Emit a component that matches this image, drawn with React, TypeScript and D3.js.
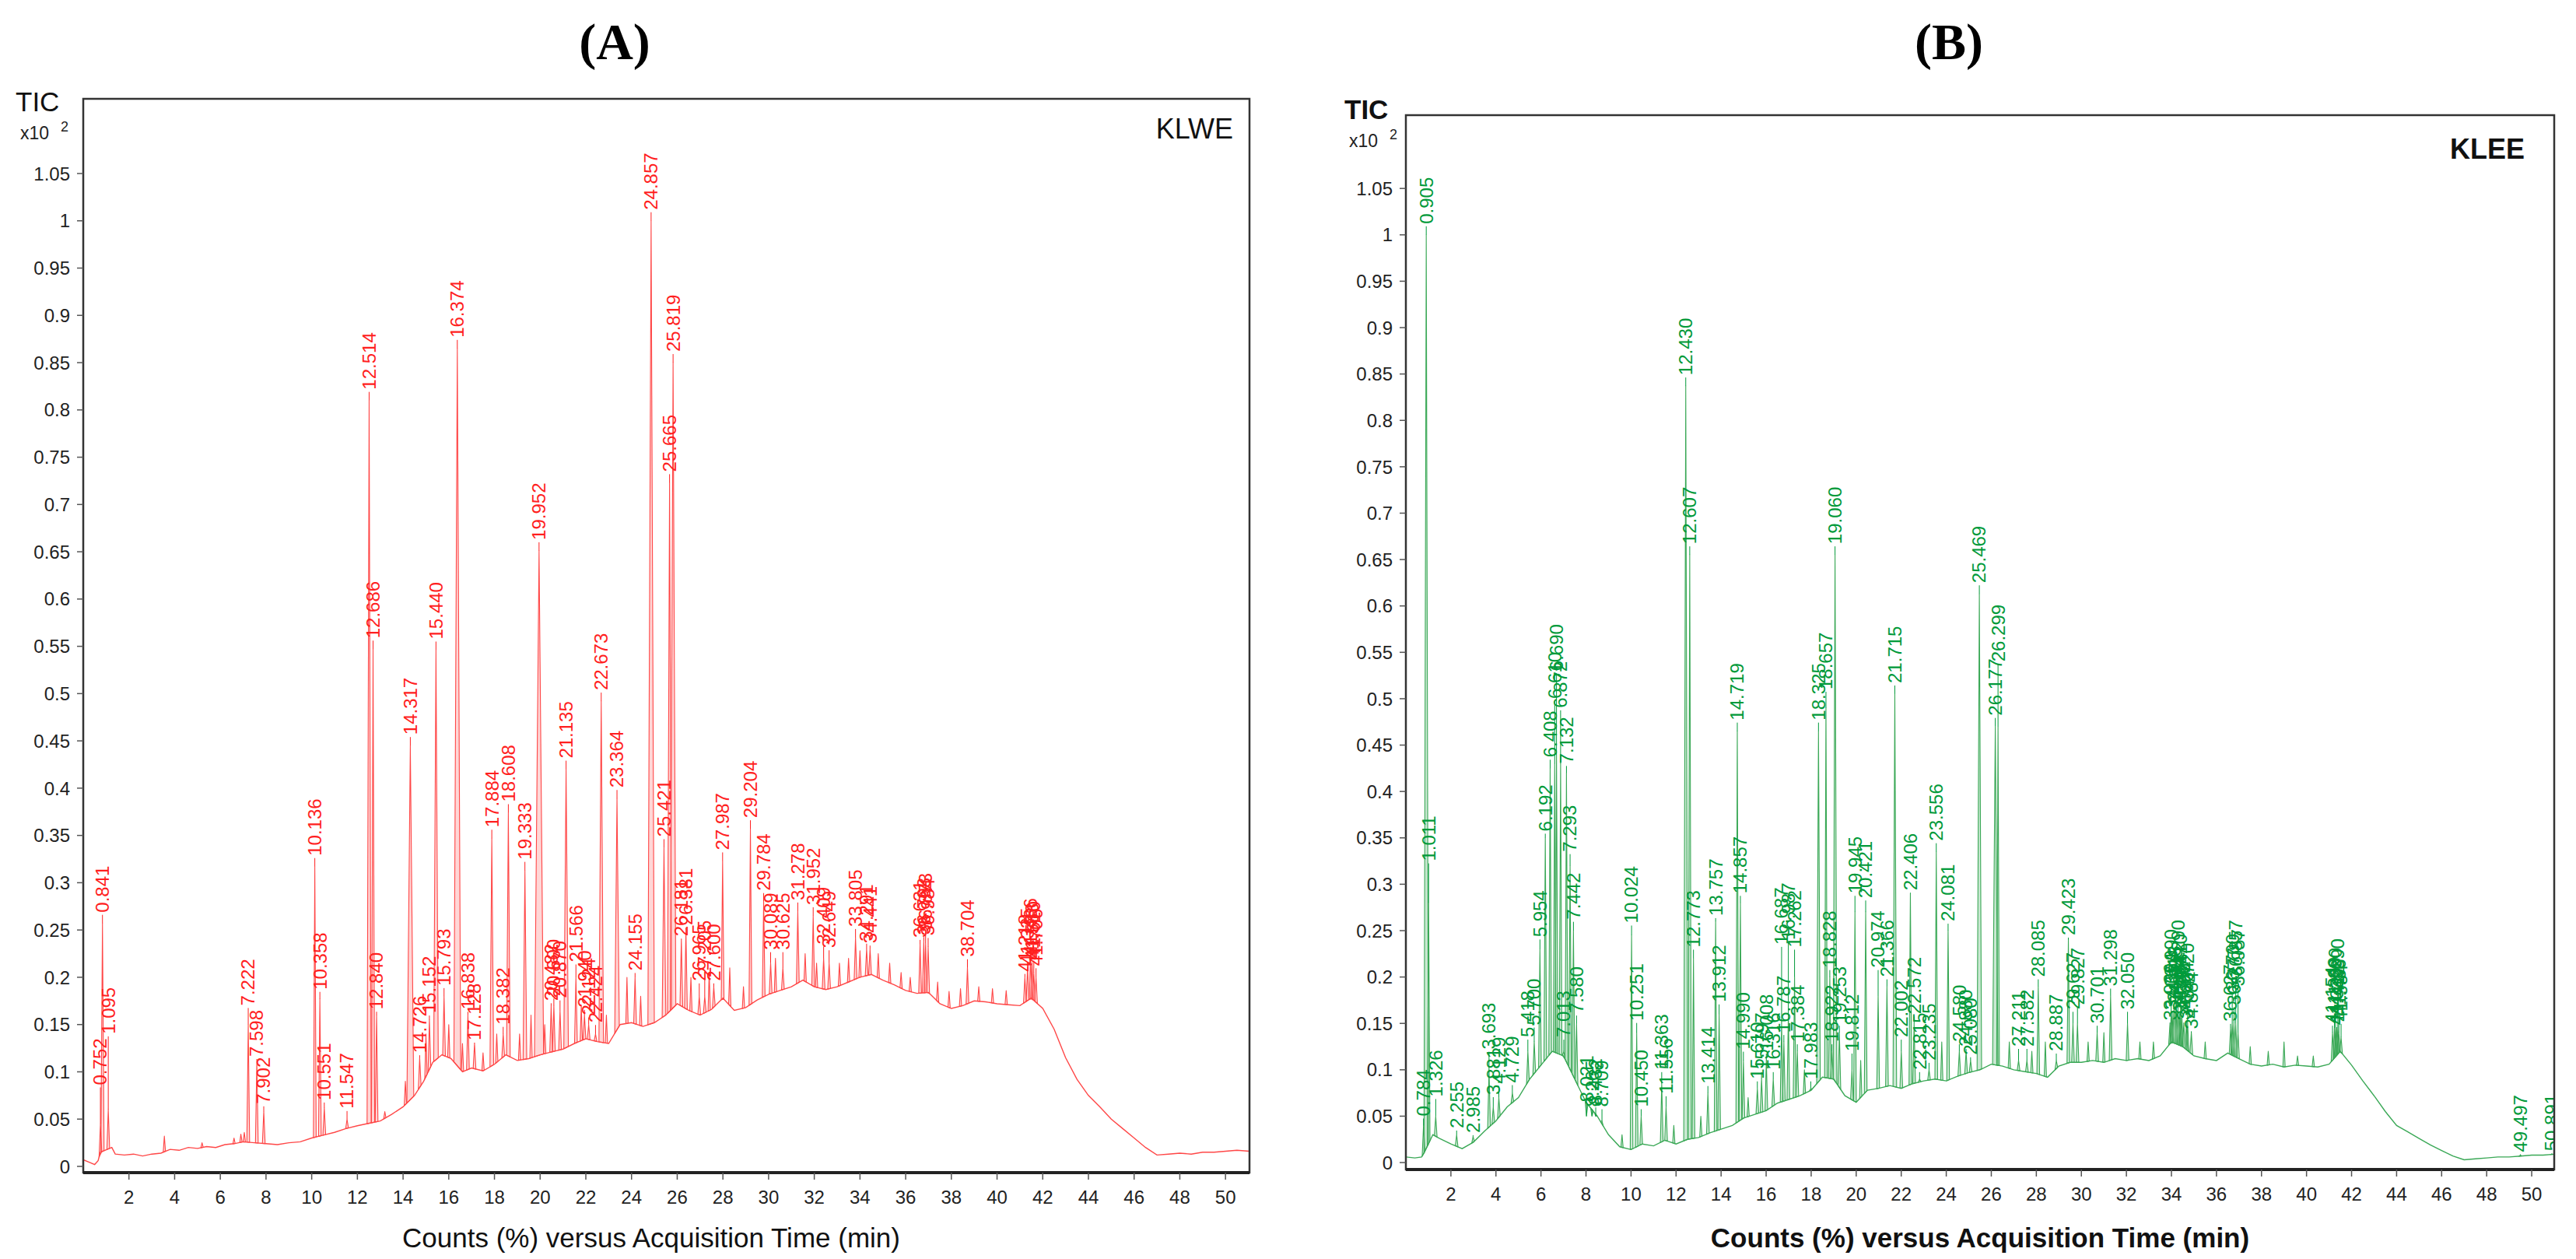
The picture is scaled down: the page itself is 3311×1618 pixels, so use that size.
import * as d3 from 'd3';

// Peak = [retention time label, apex height, label start height (optional), half width in min (optional)]
type Peak = [string, number, (number | null)?, number?];

const W = 3311;
const H = 1618;

const xTicks = [2, 4, 6, 8, 10, 12, 14, 16, 18, 20, 22, 24, 26, 28, 30, 32, 34, 36, 38, 40, 42, 44, 46, 48, 50];
const yTicks = [0, 0.05, 0.1, 0.15, 0.2, 0.25, 0.3, 0.35, 0.4, 0.45, 0.5, 0.55, 0.6, 0.65, 0.7, 0.75, 0.8, 0.85, 0.9, 0.95, 1, 1.05];

const leftBaseline: [number, number][] = [
  [0, 0.007], [0.3, 0.004], [0.5, 0.002], [0.65, 0.006], [0.75, 0.015], [1.25, 0.02], [1.4, 0.013], [1.8, 0.012],
  [2.2, 0.013], [2.6, 0.011], [3.0, 0.013], [3.4, 0.014], [3.8, 0.018], [4.2, 0.017], [4.6, 0.02], [5.0, 0.019],
  [5.4, 0.021], [5.8, 0.02], [6.2, 0.023], [6.6, 0.024], [7.0, 0.026], [7.5, 0.025], [8.0, 0.024], [8.5, 0.023],
  [9.0, 0.025], [9.5, 0.026], [10.0, 0.03], [10.5, 0.033], [11.0, 0.036], [11.5, 0.04], [12.0, 0.043], [12.4, 0.045],
  [13.0, 0.048], [13.5, 0.055], [14.0, 0.063], [14.5, 0.075], [14.9, 0.09], [15.3, 0.11], [15.7, 0.118], [16.1, 0.114],
  [16.6, 0.1], [17.0, 0.104], [17.5, 0.101], [18.0, 0.108], [18.5, 0.118], [19.0, 0.112], [19.5, 0.114], [20.0, 0.118],
  [20.5, 0.121], [21.0, 0.124], [21.5, 0.13], [22.0, 0.135], [22.5, 0.132], [23.0, 0.13], [23.5, 0.15], [24.0, 0.152],
  [24.5, 0.148], [25.0, 0.152], [25.5, 0.16], [26.0, 0.172], [26.5, 0.165], [27.0, 0.16], [27.5, 0.166], [28.0, 0.178],
  [28.5, 0.165], [29.0, 0.168], [29.5, 0.176], [30.0, 0.182], [30.5, 0.186], [31.0, 0.19], [31.5, 0.197], [32.0, 0.19],
  [32.5, 0.187], [33.0, 0.19], [33.5, 0.195], [34.0, 0.2], [34.5, 0.203], [35.0, 0.197], [35.5, 0.192], [36.0, 0.186],
  [36.5, 0.183], [37.0, 0.184], [37.5, 0.172], [38.0, 0.167], [38.5, 0.17], [39.0, 0.175], [39.5, 0.174], [40.0, 0.172],
  [40.5, 0.171], [41.0, 0.17], [41.5, 0.178], [42.0, 0.167], [42.5, 0.145], [43.0, 0.115], [43.5, 0.092], [44.0, 0.075],
  [44.5, 0.063], [45.0, 0.05], [45.5, 0.04], [46.0, 0.03], [46.5, 0.02], [47.0, 0.012], [47.5, 0.013], [48.0, 0.014],
  [48.5, 0.013], [49.0, 0.015], [49.5, 0.015], [50.0, 0.016], [50.5, 0.017], [51.05, 0.016],
];

const leftPeaks: Peak[] = [
  ['0.752', 0.045, 0.086], ['0.841', 0.257, null, 0.07], ['1.095', 0.06, 0.14],
  ['7.222', 0.15, 0.17], ['7.598', 0.11, 0.116], ['7.902', 0.058, 0.066],
  ['10.136', 0.317], ['10.358', 0.177, 0.187], ['10.551', 0.062, 0.07], ['11.547', 0.05, 0.061],
  ['12.514', 0.81, null, 0.09], ['12.686', 0.547, null, 0.07], ['12.840', 0.16, 0.166],
  ['14.317', 0.445, null, 0.15], ['14.726', 0.115, 0.12], ['15.152', 0.155, 0.162], ['15.440', 0.546, null, 0.1],
  ['15.793', 0.18, 0.191], ['16.374', 0.865, null, 0.15], ['16.838', 0.16, 0.166], ['17.128', 0.13, 0.133],
  ['17.884', 0.347, null, 0.08], ['18.382', 0.14, 0.15], ['18.608', 0.374, null, 0.08], ['19.333', 0.313, null, 0.08],
  ['19.952', 0.651, null, 0.2], ['20.482', 0.17, 0.175], ['20.600', 0.17, 0.18], ['20.870', 0.165, 0.178],
  ['21.135', 0.42, null, 0.1], ['21.566', 0.2, 0.216], ['21.940', 0.16, 0.168], ['22.124', 0.15, 0.16],
  ['22.424', 0.14, 0.152], ['22.673', 0.492, null, 0.1], ['23.364', 0.389, null, 0.1], ['24.155', 0.2, 0.207],
  ['24.857', 1.0, null, 0.14], ['25.421', 0.337, null, 0.08], ['25.665', 0.723, null, 0.09], ['25.819', 0.85, null, 0.12],
  ['26.181', 0.24, 0.24], ['26.381', 0.25, 0.255], ['26.965', 0.18, 0.196], ['27.205', 0.18, 0.2],
  ['27.600', 0.19, 0.196], ['27.987', 0.323], ['29.204', 0.357], ['29.784', 0.28],
  ['30.089', 0.215, 0.229], ['30.625', 0.21, 0.229], ['31.278', 0.27], ['31.952', 0.265],
  ['32.409', 0.22, 0.235], ['32.649', 0.215, 0.231], ['33.805', 0.242], ['34.291', 0.23, 0.238], ['34.441', 0.23, 0.236],
  ['36.631', 0.235, 0.242], ['36.793', 0.238, 0.245], ['36.873', 0.236, 0.25], ['36.984', 0.232, 0.244],
  ['38.704', 0.21],
  ['41.218', 0.2, 0.206], ['41.335', 0.21, 0.21], ['41.466', 0.22, 0.215], ['41.533', 0.215, 0.206],
  ['41.610', 0.205, 0.22], ['41.706', 0.2, 0.212],
];

const leftMinor: [number, number][] = [
  [3.55, 0.032], [5.2, 0.025], [6.6, 0.03], [6.9, 0.034], [7.05, 0.036], [13.2, 0.058], [14.1, 0.09], [15.0, 0.14],
  [16.0, 0.15], [16.6, 0.13], [17.5, 0.12], [18.1, 0.14], [19.1, 0.14], [19.6, 0.16], [20.2, 0.15], [21.8, 0.17],
  [22.9, 0.16], [23.8, 0.2], [24.4, 0.18], [26.6, 0.2], [27.4, 0.205], [28.3, 0.21], [28.9, 0.19],
  [30.3, 0.22], [31.6, 0.225], [32.1, 0.215], [33.1, 0.215], [33.5, 0.22], [34.0, 0.228], [34.8, 0.225], [35.3, 0.215],
  [35.8, 0.205], [36.2, 0.2], [37.4, 0.195], [37.9, 0.185], [38.4, 0.188], [39.2, 0.19], [39.8, 0.188], [40.4, 0.186],
];

const rightBaseline: [number, number][] = [
  [0, 0.006], [0.4, 0.005], [0.7, 0.006], [0.8, 0.01], [1.2, 0.03], [1.5, 0.026], [2.0, 0.02], [2.5, 0.015],
  [3.0, 0.022], [3.5, 0.034], [4.0, 0.045], [4.5, 0.06], [5.0, 0.07], [5.5, 0.09], [6.0, 0.105], [6.5, 0.12],
  [7.0, 0.115], [7.5, 0.09], [8.0, 0.065], [8.5, 0.05], [9.0, 0.03], [9.5, 0.017], [10.0, 0.014], [10.5, 0.02],
  [11.0, 0.018], [11.5, 0.024], [12.0, 0.02], [12.5, 0.025], [13.0, 0.027], [13.5, 0.032], [14.0, 0.036], [14.5, 0.04],
  [15.0, 0.048], [15.5, 0.052], [16.0, 0.056], [16.5, 0.064], [17.0, 0.068], [17.5, 0.072], [18.0, 0.078], [18.5, 0.092],
  [19.0, 0.09], [19.5, 0.072], [20.0, 0.065], [20.5, 0.078], [21.0, 0.08], [21.5, 0.083], [22.0, 0.08], [22.5, 0.085],
  [23.0, 0.088], [23.5, 0.09], [24.0, 0.088], [24.5, 0.093], [25.0, 0.097], [25.5, 0.1], [26.0, 0.106], [26.5, 0.104],
  [27.0, 0.1], [27.5, 0.098], [28.0, 0.096], [28.5, 0.092], [29.0, 0.104], [29.5, 0.108], [30.0, 0.108], [30.5, 0.11],
  [31.0, 0.108], [31.5, 0.112], [32.0, 0.11], [32.5, 0.112], [33.0, 0.11], [33.5, 0.115], [34.0, 0.13], [34.5, 0.125],
  [35.0, 0.115], [35.5, 0.112], [36.0, 0.11], [36.5, 0.118], [37.0, 0.112], [37.5, 0.106], [38.0, 0.104], [38.5, 0.106],
  [39.0, 0.103], [39.5, 0.105], [40.0, 0.104], [40.5, 0.103], [41.0, 0.106], [41.5, 0.12], [42.0, 0.105], [42.5, 0.088],
  [43.0, 0.072], [43.5, 0.055], [44.0, 0.04], [44.5, 0.033], [45.0, 0.026], [45.5, 0.019], [46.0, 0.013], [46.5, 0.007],
  [47.0, 0.003], [47.5, 0.004], [48.0, 0.005], [48.5, 0.006], [49.0, 0.006], [49.5, 0.007], [50.0, 0.008], [50.5, 0.008],
  [51.0, 0.009],
];

const rightPeaks: Peak[] = [
  ['0.784', 0.04, 0.05], ['0.905', 1.0, null, 0.1], ['1.011', 0.28, 0.325], ['1.326', 0.05, 0.071],
  ['2.255', 0.03, 0.037], ['2.985', 0.028, 0.032], ['3.693', 0.1, 0.122], ['3.881', 0.06, 0.073],
  ['4.129', 0.07, 0.085], ['4.729', 0.075, 0.086], ['5.418', 0.12, 0.135], ['5.700', 0.13, 0.148],
  ['5.954', 0.23, 0.243], ['6.192', 0.35, 0.357], ['6.408', 0.425], ['6.610', 0.43, 0.5], ['6.690', 0.44, 0.53],
  ['6.872', 0.43, 0.49], ['7.013', 0.12, 0.135], ['7.132', 0.42, 0.43], ['7.293', 0.32, 0.335], ['7.442', 0.25, 0.262],
  ['7.580', 0.15, 0.161], ['8.021', 0.05, 0.065], ['8.265', 0.05, 0.06], ['8.432', 0.05, 0.062], ['8.709', 0.045, 0.06],
  ['10.024', 0.245, 0.258], ['10.251', 0.14, 0.153], ['10.450', 0.05, 0.06], ['11.363', 0.085, 0.1], ['11.556', 0.06, 0.074],
  ['12.430', 0.837, null, 0.09], ['12.607', 0.655, null, 0.07], ['12.773', 0.22, 0.232], ['13.414', 0.075, 0.085],
  ['13.757', 0.26, 0.266], ['13.912', 0.16, 0.173], ['14.719', 0.465], ['14.857', 0.28, 0.29], ['14.990', 0.11, 0.122],
  ['15.610', 0.08, 0.09], ['15.797', 0.09, 0.1], ['16.008', 0.11, 0.12], ['16.316', 0.09, 0.1], ['16.687', 0.15, 0.235],
  ['16.787', 0.13, 0.14], ['16.987', 0.16, 0.24], ['17.262', 0.2, 0.232], ['17.384', 0.12, 0.13], ['17.983', 0.08, 0.09],
  ['18.325', 0.465, null, 0.08], ['18.657', 0.49, 0.51], ['18.828', 0.2, 0.21], ['18.922', 0.12, 0.13], ['19.060', 0.655, null, 0.08],
  ['19.253', 0.14, 0.15], ['19.812', 0.1, 0.12], ['19.945', 0.27, 0.29], ['20.421', 0.27, 0.285], ['20.974', 0.18, 0.21],
  ['21.366', 0.19, 0.2], ['21.715', 0.505, null, 0.08], ['22.002', 0.12, 0.135], ['22.406', 0.29, 0.293], ['22.572', 0.15, 0.16],
  ['22.815', 0.09, 0.1], ['23.235', 0.1, 0.11], ['23.556', 0.335], ['24.081', 0.25, 0.26], ['24.580', 0.12, 0.13],
  ['24.880', 0.12, 0.125], ['25.080', 0.11, 0.116], ['25.469', 0.613, null, 0.1], ['26.177', 0.47, null, 0.12],
  ['26.299', 0.47, 0.54], ['27.211', 0.11, 0.125], ['27.582', 0.11, 0.125], ['28.085', 0.19, 0.2], ['28.887', 0.11, 0.12],
  ['29.423', 0.24, 0.245], ['29.627', 0.15, 0.165], ['29.827', 0.15, 0.17], ['30.701', 0.14, 0.15], ['31.298', 0.18, 0.19],
  ['32.050', 0.15, 0.165],
  ['33.936', 0.15, 0.15], ['33.990', 0.16, 0.19], ['34.034', 0.16, 0.165], ['34.118', 0.17, 0.135], ['34.205', 0.165, 0.17],
  ['34.290', 0.165, 0.2], ['34.362', 0.16, 0.145], ['34.410', 0.16, 0.185], ['34.467', 0.155, 0.16], ['34.550', 0.15, 0.132],
  ['34.664', 0.15, 0.155], ['34.720', 0.15, 0.175], ['34.884', 0.14, 0.144],
  ['36.627', 0.145, 0.152], ['36.700', 0.15, 0.185], ['36.777', 0.15, 0.17], ['36.857', 0.15, 0.2], ['36.957', 0.14, 0.19],
  ['41.154', 0.14, 0.15], ['41.239', 0.145, 0.16], ['41.290', 0.145, 0.17], ['41.339', 0.145, 0.148],
  ['41.390', 0.145, 0.18], ['41.436', 0.14, 0.158], ['41.534', 0.135, 0.152],
  ['49.497', 0.008, 0.01], ['50.891', 0.009, 0.012],
];

const rightMinor: [number, number][] = [
  [9.6, 0.03], [11.9, 0.04], [13.1, 0.05], [15.2, 0.07], [17.7, 0.1], [20.2, 0.11], [23.8, 0.13], [26.8, 0.13],
  [27.8, 0.12], [28.4, 0.13], [30.3, 0.13], [31.0, 0.14], [32.6, 0.13], [33.2, 0.13], [35.5, 0.13], [37.5, 0.125],
  [38.3, 0.12], [39.0, 0.13], [39.6, 0.115], [40.3, 0.115],
];

const FONT = '"Liberation Sans", Arial, Helvetica, sans-serif';

interface PanelProps {
  id: string;
  baseline: [number, number][];
  peaks: Peak[];
  minor: [number, number][];
  box: { x0: number; x1: number; y0: number; y1: number };
  xMax: number;
  yMin: number;
  stroke: string;
  fill: string;
  labelColor: string;
  bold: boolean;
  name: string;
  nameX: number;
  nameY: number;
  ticX: number;
  ticY: number;
  letter: string;
  letterX: number;
  titleX: number;
}

function Panel(p: PanelProps) {
  const { box } = p;
  const x = d3.scaleLinear().domain([0, p.xMax]).range([box.x0, box.x1]);
  const y = d3.scaleLinear().domain([p.yMin, 1.129]).range([box.y1, box.y0]);
  const base = d3.scaleLinear()
    .domain(p.baseline.map(d => d[0]))
    .range(p.baseline.map(d => d[1]))
    .clamp(true);
  const line = d3.line<[number, number]>().x(d => x(d[0])).y(d => y(d[1]));

  const shapes = [
    ...p.minor.map(([t, apex]) => ({ t, apex, w: 0.05 })),
    ...p.peaks.map(pk => ({ t: +pk[0], apex: pk[1], w: pk[3] ?? 0.06 })),
  ];

  const weight = p.bold ? 'bold' : 'normal';

  return (
    <g>
      <defs>
        <clipPath id={'clip-' + p.id}>
          <rect x={box.x0} y={box.y0} width={box.x1 - box.x0} height={box.y1 - box.y0} />
        </clipPath>
      </defs>

      <text x={p.letterX} y={76} textAnchor="middle" fontFamily='"Liberation Serif", "Times New Roman", serif'
        fontWeight="bold" fontSize={66} fill="#000">{p.letter}</text>

      <text x={p.ticX} y={p.ticY} fontFamily={FONT} fontSize={35} fontWeight={weight} fill="#111">TIC</text>
      <text x={p.ticX + 6} y={p.ticY + 36} fontFamily={FONT} fontSize={23} fill="#222">x10</text>
      <text x={p.ticX + 58} y={p.ticY + 26} fontFamily={FONT} fontSize={18} fill="#222">2</text>

      <g clipPath={`url(#clip-${p.id})`}>
        {shapes.map((s, i) => {
          const pts: [number, number][] = [[s.t - s.w, base(s.t - s.w)], [s.t, s.apex], [s.t + s.w, base(s.t + s.w)]];
          return <path key={'pk' + i} d={line(pts) + 'Z'} fill={p.fill} stroke={p.stroke} strokeWidth={1.1} strokeLinejoin="round" />;
        })}
        <path d={line(p.baseline) ?? ''} fill="none" stroke={p.stroke} strokeWidth={1.4} />

        {p.peaks.map((pk, i) => {
          const t = +pk[0];
          const px = x(t);
          const ya = y(pk[1]);
          const yl = pk[2] != null ? Math.min(y(pk[2] as number), ya - 4) : ya - 14;
          return (
            <g key={'lb' + i}>
              {yl + 3 < ya && <line x1={px} x2={px} y1={ya} y2={yl + 3} stroke={p.labelColor} strokeWidth={1} />}
              <text x={px} y={yl} dy="0.35em" transform={`rotate(-90 ${px} ${yl})`} textAnchor="start"
                fontFamily={FONT} fontSize={24} fill={p.labelColor}>{pk[0]}</text>
            </g>
          );
        })}
      </g>

      <text x={p.nameX} y={p.nameY} fontFamily={FONT} fontSize={36} fontWeight={weight} fill="#111" textAnchor="end">{p.name}</text>

      <rect x={box.x0} y={box.y0} width={box.x1 - box.x0} height={box.y1 - box.y0} fill="none" stroke="#333" strokeWidth={2.5} />
      <line x1={box.x0} x2={box.x1} y1={box.y1} y2={box.y1} stroke="#222" strokeWidth={4} />

      {yTicks.map(v => (
        <g key={'y' + v}>
          <line x1={box.x0 - 8} x2={box.x0} y1={y(v)} y2={y(v)} stroke="#555" strokeWidth={1.5} />
          <text x={box.x0 - 17} y={y(v)} dy="0.36em" textAnchor="end" fontFamily={FONT} fontSize={24} fill="#222">
            {String(+v.toFixed(2))}
          </text>
        </g>
      ))}

      {xTicks.map(v => (
        <g key={'x' + v}>
          <line x1={x(v)} x2={x(v)} y1={box.y1} y2={box.y1 + 9} stroke="#555" strokeWidth={1.5} />
          <text x={x(v)} y={box.y1 + 40} textAnchor="middle" fontFamily={FONT} fontSize={24} fill="#222">{v}</text>
        </g>
      ))}

      <text x={p.titleX} y={1603} textAnchor="middle" fontFamily={FONT} fontSize={35} fontWeight={weight} fill="#111">
        Counts (%) versus Acquisition Time (min)
      </text>
    </g>
  );
}

export default function App() {
  return (
    <div style={{ position: 'fixed', left: 0, top: 0, background: '#fff' }}>
      <svg width={W} height={H} viewBox={`0 0 ${W} ${H}`} style={{ display: 'block' }}>
        <rect width={W} height={H} fill="#fff" />
        <Panel
          id="a" baseline={leftBaseline} peaks={leftPeaks} minor={leftMinor}
          box={{ x0: 107, x1: 1606, y0: 127, y1: 1507 }} xMax={51.05} yMin={-0.0066}
          stroke="#ff4747" fill="rgba(255,120,120,0.3)" labelColor="#ff1f1f" bold={false}
          name="KLWE" nameX={1585} nameY={178} ticX={20} ticY={143}
          letter="(A)" letterX={790} titleX={837}
        />
        <Panel
          id="b" baseline={rightBaseline} peaks={rightPeaks} minor={rightMinor}
          box={{ x0: 1807, x1: 3283, y0: 148, y1: 1503 }} xMax={51.0} yMin={-0.0075}
          stroke="#3aa856" fill="rgba(60,170,90,0.27)" labelColor="#019a3a" bold={true}
          name="KLEE" nameX={3245} nameY={204} ticX={1728} ticY={153}
          letter="(B)" letterX={2505} titleX={2545}
        />
      </svg>
    </div>
  );
}
